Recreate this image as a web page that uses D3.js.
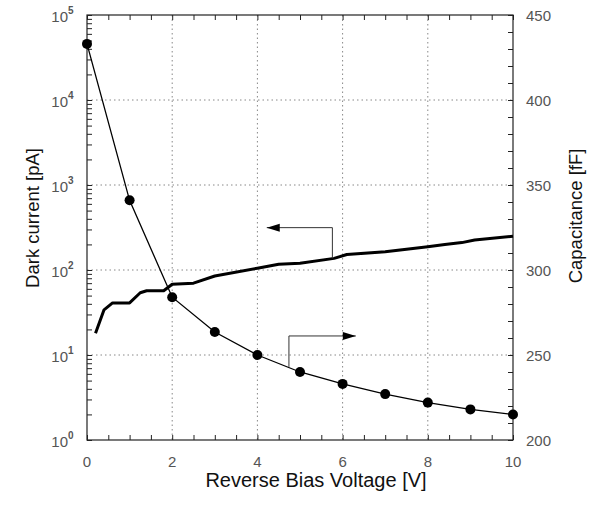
<!DOCTYPE html>
<html><head><meta charset="utf-8">
<script src="https://cdn.jsdelivr.net/npm/d3@7/dist/d3.min.js"></script>
<style>body{margin:0;background:#fff}svg{display:block}text{font-family:"Liberation Sans",Arial,sans-serif}</style>
</head><body><svg id="c" width="591" height="508"></svg>
<script>
// Dark current (left, log axis)
const darkV = [0.2,0.4,0.6,1.0,1.25,1.4,1.8,2.0,2.5,3.0,4.0,4.5,5.0,5.8,6.1,7.0,8.0,8.4,8.8,9.1,10];
const darkI = [18,34,41,41,54,57,57,68,70,85,105,117,120,137,152,164,188,200,210,225,250];
// Capacitance (right axis)
const capV = [0,1,2,3,4,5,6,7,8,9,10];
const capC = [433,341,284,263.5,250,240,233,227,222,218,215];
const xTickLabels = [0,2,4,6,8,10];
const leftTickExps = [0,1,2,3,4,5];
const rightTickLabels = [200,250,300,350,400,450];

const svg = d3.select("#c");
const L=87, R=513, T=15, B=440;
const x = d3.scaleLinear().domain([0,10]).range([L,R]);
const yL = d3.scaleLog().domain([1,1e5]).range([B,T]);
const yR = d3.scaleLinear().domain([200,450]).range([B,T]);
const tickCol="#555";

// grid
const g = svg.append("g");
[2,4,6,8].forEach(v=>g.append("line").attr("x1",x(v)).attr("x2",x(v)).attr("y1",T).attr("y2",B)
  .attr("stroke","#888").attr("stroke-dasharray","1.5,3").attr("stroke-width",1));
[1,2,3,4].forEach(e=>g.append("line").attr("x1",L).attr("x2",R).attr("y1",yL(Math.pow(10,e))).attr("y2",yL(Math.pow(10,e)))
  .attr("stroke","#888").attr("stroke-dasharray","1.5,3").attr("stroke-width",1));

// axes (ticks inward)
const xt = d3.range(0,10.01,0.5);
svg.append("g").attr("transform",`translate(0,${B})`).call(d3.axisTop(x).tickValues(xt).tickSize(5).tickFormat(""))
  .call(a=>a.select(".domain").remove());
svg.append("g").attr("transform",`translate(0,${T})`).call(d3.axisBottom(x).tickValues(xt).tickSize(5).tickFormat(""))
  .call(a=>a.select(".domain").remove());
const logTicks=[];
for(let e=0;e<5;e++) for(let m=1;m<10;m++) logTicks.push(m*Math.pow(10,e));
logTicks.push(1e5);
svg.append("g").attr("transform",`translate(${L},0)`).call(d3.axisRight(yL).tickValues(logTicks).tickSize(5).tickFormat(""))
  .call(a=>a.select(".domain").remove());
svg.append("g").attr("transform",`translate(${R},0)`).call(d3.axisLeft(yR).tickValues(d3.range(200,451,10)).tickSize(5).tickFormat(""))
  .call(a=>a.select(".domain").remove());
svg.selectAll(".tick line").attr("stroke","#222");
// frame
svg.append("rect").attr("x",L).attr("y",T).attr("width",R-L).attr("height",B-T)
  .attr("fill","none").attr("stroke","#222").attr("stroke-width",1.2);

// tick labels
xTickLabels.forEach(v=>svg.append("text").attr("x",x(v)).attr("y",B+27).attr("text-anchor","middle")
  .attr("font-size",15).attr("fill",tickCol).text(v));
leftTickExps.forEach(e=>{
  const yy=yL(Math.pow(10,e));
  svg.append("text").attr("x",68).attr("y",yy+7).attr("text-anchor","end").attr("font-size",15).attr("fill",tickCol).text("10");
  svg.append("text").attr("x",68).attr("y",yy-1).attr("font-size",10).attr("font-weight","bold").attr("fill",tickCol).text(e);
});
rightTickLabels.forEach(v=>svg.append("text").attr("x",526).attr("y",yR(v)+6).attr("font-size",15).attr("fill",tickCol).text(v));

// axis titles
svg.append("text").attr("x",316).attr("y",487).attr("text-anchor","middle").attr("font-size",20).attr("fill","#111")
  .text("Reverse Bias Voltage [V]");
svg.append("text").attr("transform","translate(39,218) rotate(-90)").attr("text-anchor","middle").attr("font-size",18.5).attr("fill","#111")
  .text("Dark current [pA]");
svg.append("text").attr("transform","translate(582,216) rotate(-90)").attr("text-anchor","middle").attr("font-size",18.5).attr("fill","#111")
  .text("Capacitance [fF]");

// capacitance line + markers
const capData = capV.map((v,i)=>[v,capC[i]]);
svg.append("path").datum(capData).attr("d",d3.line().x(d=>x(d[0])).y(d=>yR(d[1])))
  .attr("fill","none").attr("stroke","#000").attr("stroke-width",1.3);
svg.selectAll("circle.c").data(capData).enter().append("circle").attr("cx",d=>x(d[0])).attr("cy",d=>yR(d[1]))
  .attr("r",5).attr("fill","#000");

// dark current line
const darkData = darkV.map((v,i)=>[v,darkI[i]]);
svg.append("path").datum(darkData).attr("d",d3.line().x(d=>x(d[0])).y(d=>yL(d[1])))
  .attr("fill","none").attr("stroke","#000").attr("stroke-width",3).attr("stroke-linejoin","round");

// annotation arrows
function arrow(pts, dir){
  svg.append("path").attr("d",d3.line()(pts)).attr("fill","none").attr("stroke","#333").attr("stroke-width",1);
  const tip=pts[pts.length-1];
  const hl=13, hw=4;
  svg.append("path").attr("d",`M${tip[0]},${tip[1]} L${tip[0]-dir*hl},${tip[1]-hw} L${tip[0]-dir*hl},${tip[1]+hw}Z`).attr("fill","#000");
}
// left-pointing (dark current -> left axis)
arrow([[x(5.76),yL(137)],[x(5.76),yL(315)],[x(4.22),yL(315)]], -1);
// right-pointing (capacitance -> right axis)
arrow([[x(4.74),yR(243)],[x(4.74),yR(261.2)],[x(6.31),yR(261.2)]], 1);
</script></body></html>
